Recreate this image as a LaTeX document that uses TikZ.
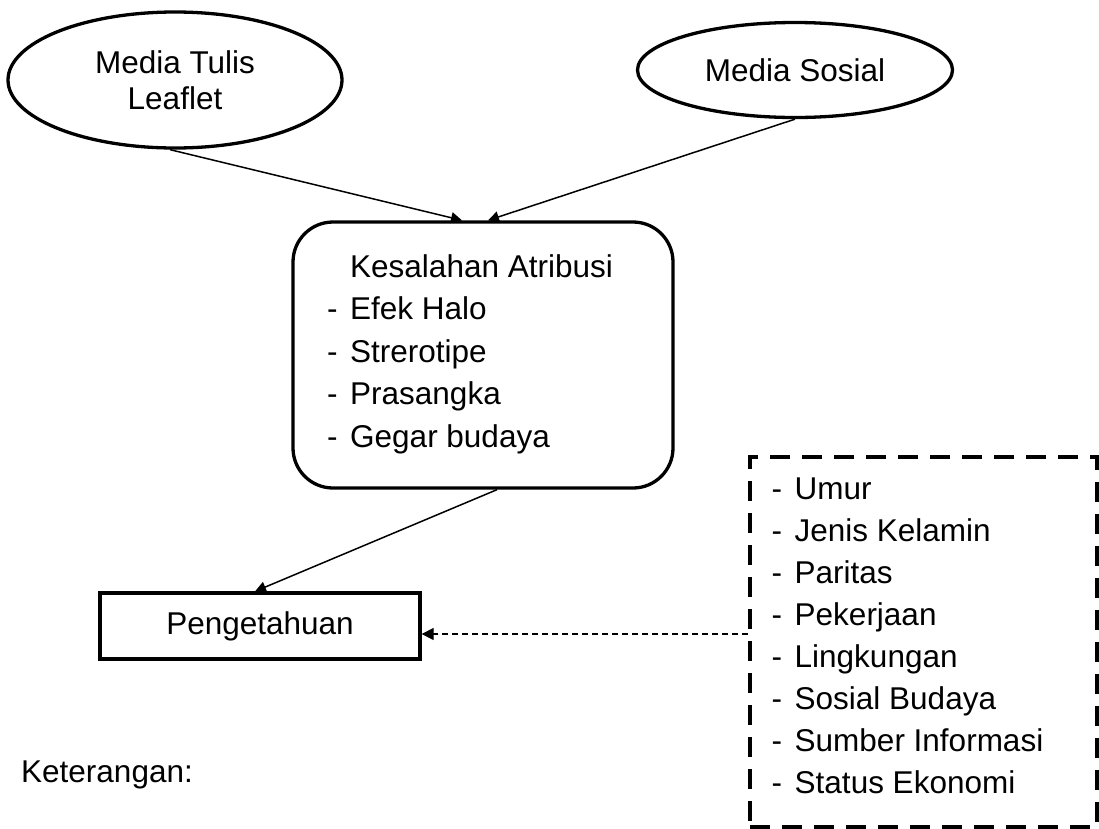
\documentclass[tikz,border=0pt]{standalone}
\usepackage{fontspec}
\setmainfont{Liberation Sans}
\usetikzlibrary{shapes.geometric,arrows.meta,calc}
\begin{document}
\begin{tikzpicture}[x=1pt,y=-1pt,
  every node/.style={font=\fontsize{31.5}{36}\selectfont},
  ell/.style={ellipse,draw,line width=3.3pt,inner sep=0pt,align=center},
  rbox/.style={draw,line width=3.3pt,rounded corners=40pt,minimum width=380pt,minimum height=266pt,inner sep=0pt},
  sbox/.style={draw,line width=3.3pt,minimum width=320pt,minimum height=66pt,inner sep=0pt},
  dbox/.style={draw,line width=3.3pt,dash pattern=on 20pt off 12pt,minimum width=347pt,minimum height=370pt,inner sep=0pt},
  txt/.style={anchor=base west,inner sep=0pt},
  arr/.style={line width=1.5pt,-{Triangle[length=11pt,width=11pt]}},
  darr/.style={line width=1.3pt,dash pattern=on 6pt off 4pt,-{Triangle[length=12pt,width=12pt]}}]
\useasboundingbox (0,0) rectangle (1099,828);

\node[ell,minimum width=334pt,minimum height=136pt] (e1) at (175,80) {Media Tulis\\Leaflet};
\node[ell,minimum width=315pt,minimum height=95pt] (e2) at (795,70) {Media Sosial};

\node[rbox] (kb) at (483,355) {};
\node[txt] (k0) at (350,277) {Kesalahan Atribusi};
\node[txt] (d1) at (327,319.5) {-};
\node[txt] (k1) at (350,319.5) {Efek Halo};
\node[txt] (d2) at (327,362) {-};
\node[txt] (k2) at (350,362) {Strerotipe};
\node[txt] (d3) at (327,404.5) {-};
\node[txt] (k3) at (350,404.5) {Prasangka};
\node[txt] (d4) at (327,447) {-};
\node[txt] (k4) at (350,447) {Gegar budaya};

\node[sbox] (pg) at (260,626) {Pengetahuan};

\node[dbox] (db) at (923.5,642) {};
\foreach \t [count=\i from 0] in {Umur,Jenis Kelamin,Paritas,Pekerjaan,Lingkungan,Sosial Budaya,Sumber Informasi,Status Ekonomi}{
  \node[txt] (fd\i) at (771.5,499+42*\i) {-};
  \node[txt] (f\i) at (794.5,499+42*\i) {\t};
}

\node[txt] (ket) at (21,782) {Keterangan:};

\draw[arr] ($(e1.south)+(-5,0)$) -- ($(kb.north)+(-21,0)$);
\draw[arr] (e2.south) -- ($(kb.north)+(5,0)$);
\draw[arr] ($(kb.south)+(14,0)$) -- ($(pg.north)+(-5,0)$);
\draw[darr] (db.west |- 0,634) -- (pg.east |- 0,634);
\end{tikzpicture}
\end{document}
